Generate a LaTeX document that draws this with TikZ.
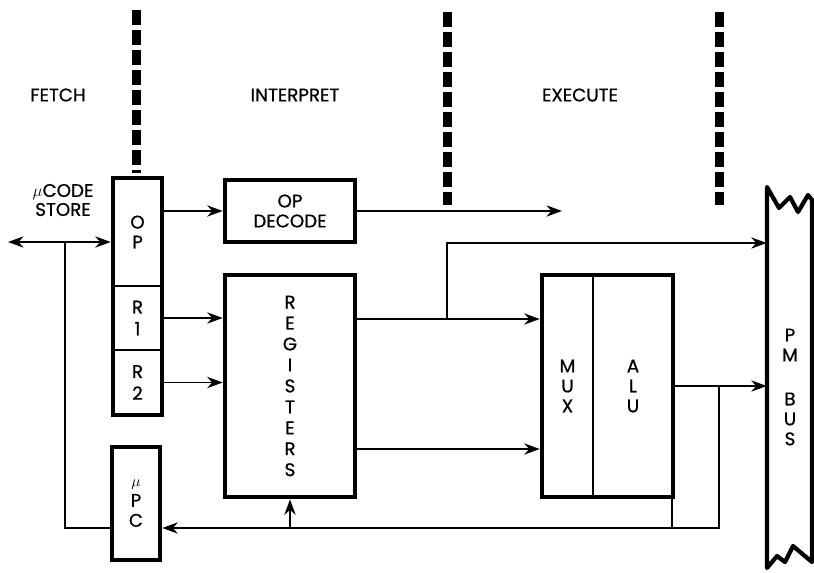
\documentclass[tikz,border=0pt]{standalone}
\usepackage{fontspec}
\setmainfont{Poppins}[FakeBold=0.8]
\usepackage{tikz}
\usetikzlibrary{arrows.meta,fit,positioning}

\tikzset{
  blk/.style={draw, line width=3.3pt, inner sep=0pt},
  cell/.style={draw, line width=1.3pt, inner sep=0pt},
  wire/.style={line width=1.3pt},
  tip/.tip={Stealth[length=11pt,width=8pt,inset=3.5pt]},
  arr/.style={wire, -tip},
  arrboth/.style={wire, tip-tip},
  lbl/.style={font=\fontsize{13}{14.2}\selectfont, align=center, inner sep=0pt},
  stage/.style={line width=6.4pt, dash pattern=on 0.375cm off 0.125cm},
}

\begin{document}
\begin{tikzpicture}[x=0.025cm, y=-0.025cm]
\useasboundingbox (0,0) rectangle (814,572);

%% ── Stage boundaries and titles ─────────────────────────────────────────────
\draw[stage] (136,10) -- (136,173);
\draw[stage] (447,12) -- (447,205);
\draw[stage] (719,12) -- (719,205);

\node[lbl] (fetch)  at (58,95)  {FETCH};
\node[lbl] (interp) at (295,95) {INTERPRET};
\node[lbl] (exec)   at (580,95) {EXECUTE};

%% ── Instruction word: OP / R1 / R2 ──────────────────────────────────────────
\node[cell, fit={(113,178) (162,286)}] (op) {};
\node[cell, fit={(113,286) (162,350)}] (r1) {};
\node[cell, fit={(113,350) (162,415)}] (r2) {};
\node[blk,  fit={(113,178) (162,415)}] (ir) {};
\node[lbl] (opt) at (op) {O\\P};
\node[lbl, font=\fontsize{13}{15.5}\selectfont] (r1t) at (r1) {R\\1};
\node[lbl, font=\fontsize{13}{15.5}\selectfont] (r2t) at (r2) {R\\2};

%% ── micro PC ────────────────────────────────────────────────────────────────
\node[blk, fit={(112,447) (160,560)}] (upc) {};
\node[lbl] (upct) at (upc) {{\fontsize{11}{10}\selectfont$\mu$}\\P\\C};

%% ── Decoder and register file ───────────────────────────────────────────────
\node[blk, fit={(225,180) (355,242)}] (dec) {};
\node[lbl] (dect) at (dec) {OP\\DECODE};

\node[blk, fit={(225,275) (355,497)}] (reg) {};
\node[lbl, font=\fontsize{13}{14.9}\selectfont] (regt) at (reg)
  {R\\E\\G\\I\\S\\T\\E\\R\\S};

%% ── MUX / ALU ───────────────────────────────────────────────────────────────
\node[cell, fit={(542,275) (593,497)}] (mux) {};
\node[cell, fit={(593,275) (673,497)}] (alu) {};
\node[blk,  fit={(542,275) (673,497)}] (xu) {};
\node[lbl] (muxt) at (mux) {M\\U\\X};
\node[lbl] (alut) at (alu) {A\\L\\U};

%% ── PM bus ──────────────────────────────────────────────────────────────────
\node[inner sep=0pt, fit={(767,188) (812,568)}] (pm) {};
\draw[line width=3pt, line join=round]
  (767,568) -- (767,187) -- (779,208) -- (790,197) -- (798,212) -- (808,195)
  -- (812,200) -- (812,562) -- (793,546) -- (785,562) -- (777,556) -- cycle;
\node[lbl] (pmt) at (790,387) {P\\M\\[0.6cm]B\\U\\S};

%% ── micro code store ────────────────────────────────────────────────────────
\node[lbl, font=\fontsize{13}{13.5}\selectfont] (ucst) at (63,200) {$\mu$CODE\\STORE};

%% ── Connectors ──────────────────────────────────────────────────────────────
\coordinate (ucs)  at (8,242);
\coordinate (tap)  at (65,242);
\coordinate (fb)   at (719,528);
\coordinate (busA) at (447,319);
\coordinate (busB) at (447,449);
\coordinate (pmA)  at (447,243);
\coordinate (dend) at (562,210);

% store <-> instruction word, micro PC back to store
\draw[arrboth] (ucs) -- (ucs -| ir.west);
\draw[wire] (fb -| upc.west) -| (tap);

% OP field to decoder and on
\draw[arr] (dec.west -| ir.east) -- (dec.west);
\draw[arr] (dec.east) -- (dec.east -| dend);

% register addresses
\draw[arr] (r1.east) -- (r1.east -| reg.west);
\draw[arr] (r2.east) -- (r2.east -| reg.west);

% register outputs
\draw[arr] (busA -| reg.east) -- (busA -| xu.west);
\draw[arr] (busA) -- (pmA) -- (pmA -| pm.west);
\draw[arr] (busB -| reg.east) -- (busB -| xu.west);

% ALU result to bus and back
\draw[arr] (alu.east) -- (alu.east -| pm.west);
\draw[arr] (alu.east -| fb) -- (fb) -- (fb -| upc.east);
\draw[wire] ([xshift=-0.05cm]alu.south east) -- ([xshift=-0.05cm]alu.south east |- fb);
\draw[arr] (fb -| reg.south) -- (reg.south);

\end{tikzpicture}
\end{document}
